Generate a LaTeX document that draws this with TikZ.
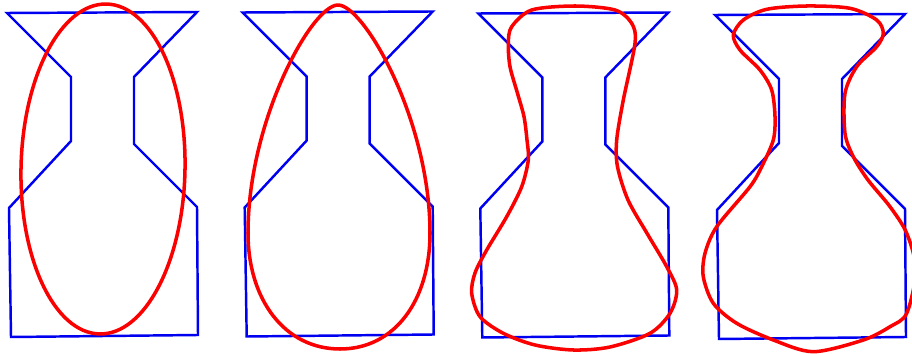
\documentclass[tikz,border=0pt]{standalone}
\definecolor{outlineblue}{RGB}{0,0,240}
\definecolor{fitred}{RGB}{250,0,0}
\begin{document}
\begin{tikzpicture}[x=0.02cm, y=-0.02cm,
    vaseline/.style={outlineblue, line width=1.4pt, line join=miter},
    fitcurve/.style={fitred, line width=2pt, line join=round}]
  % A vase outline: #1 = shift to the right, #2 = shift downwards (in pixels of the panel).
  \newcommand{\vaseoutline}[2]{%
    \draw[vaseline, shift={(#1,#2)}] (7,13) -- (197,12) -- (134,77) -- (134,144) -- (197,207)
      -- (198,335) -- (11,337) -- (9,208) -- (71,141) -- (71,77) -- cycle;}

  \useasboundingbox (0,0) rectangle (912,354);
  \vaseoutline{0}{0}
  \vaseoutline{235.7}{-0.5}
  \vaseoutline{471.3}{0.5}
  \vaseoutline{708}{2}

  % first fit: an ellipse
  \draw[fitcurve, rotate around={-1.2:(103,169)}] (103,169) ellipse [x radius=82, y radius=165];

  % second fit: an egg, narrow at the top
  \draw[fitcurve] (338,5) .. controls (364,5) and (430,120) .. (430,233)
    .. controls (430,300) and (395,349) .. (340,349)
    .. controls (285,349) and (248,300) .. (248,233)
    .. controls (248,120) and (312,5) .. cycle;

  % third fit
  \draw[fitcurve] plot[smooth cycle] coordinates {(511.7,26.7) (531.7,10) (575,6) (615,10)
    (631.7,23.3) (635,43.3) (623.3,100) (616.7,140) (617.5,166.7) (628,200) (647,233.3)
    (666.7,266.7) (676.7,290) (670,313.3) (650,333.3) (610,347) (573.3,350) (535,345)
    (503.3,333.3) (480,316.7) (471.7,293.3) (475,273) (486.7,250) (506.7,216.7)
    (521.7,186.7) (528.3,160) (527,140) (524,116.7) (517.5,93.3) (510,66.7) (508.3,43.3)};

  % fourth fit
  \draw[fitcurve] plot[smooth cycle] coordinates {(743.3,20) (766.7,9.3) (806.7,6) (850,8.3)
    (876.7,20) (883.3,33.3) (876.7,46.7) (856.7,66.7) (845,93.3) (845,133.3) (853.3,156.7)
    (868,180) (890,206.7) (906.7,233.3) (916,270) (906.7,313.3) (890,326.7) (863.3,340)
    (813.3,351.7) (773.3,340) (736.7,323.3) (713.3,303.3) (703.3,276.7) (705,253.3)
    (716.7,226.7) (750,186.7) (761.7,166.7) (773.3,140) (775,116.7) (771.7,90) (760,70)
    (740,50) (733.3,35)};
\end{tikzpicture}
\end{document}
